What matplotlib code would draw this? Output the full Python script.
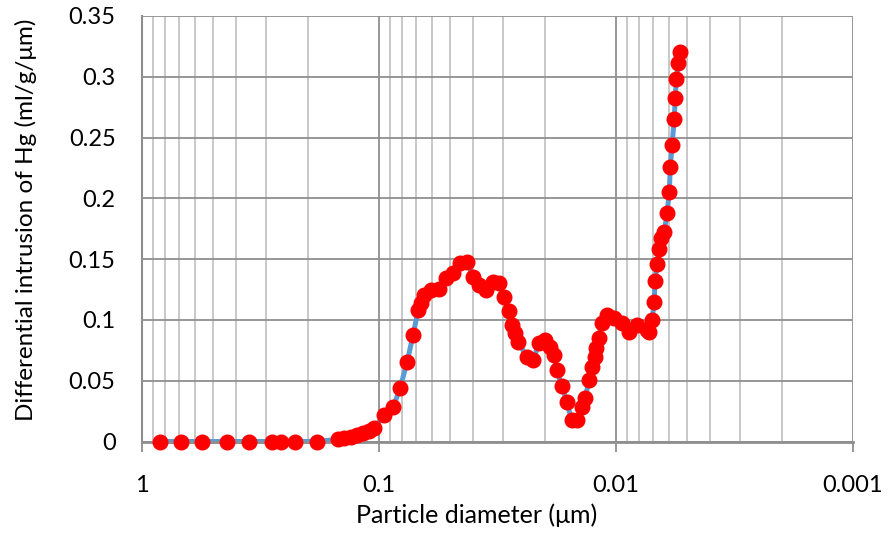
import matplotlib
matplotlib.use("Agg")
import matplotlib.pyplot as plt
from matplotlib.ticker import FixedLocator, NullFormatter, FixedFormatter

plt.rcParams['font.family'] = ['Lato', 'DejaVu Sans']

# Pore size distribution from mercury intrusion porosimetry
diameter_um = [
    0.839, 0.683, 0.557, 0.436, 0.352, 0.284, 0.258, 0.227, 0.183,
    0.149, 0.141, 0.131, 0.124, 0.117, 0.110, 0.105,
    0.0953, 0.0872, 0.0815, 0.0761, 0.0718, 0.0684, 0.0664, 0.0645,
    0.0602, 0.0557, 0.0520, 0.0486, 0.0454, 0.0424, 0.0400, 0.0377,
    0.0355, 0.0329, 0.0313, 0.0298, 0.0284, 0.0276, 0.0268, 0.0258,
    0.0238, 0.0223, 0.0212, 0.0200, 0.0190, 0.0183, 0.0178, 0.0169,
    0.0161, 0.0154, 0.0146, 0.0139, 0.0135, 0.0130, 0.0126, 0.0123,
    0.0122, 0.0118, 0.0115, 0.0109, 0.0102, 0.00944, 0.00881, 0.00815,
    0.00740, 0.00725, 0.00704, 0.00690, 0.00684, 0.00670, 0.00657,
    0.00645, 0.00626, 0.00608, 0.00596, 0.00590, 0.00580, 0.00568,
    0.00562, 0.00557, 0.00546, 0.00536,
]
dv_dlogd = [
    0.0, 0.0, 0.0, 0.0, 0.0, 0.0, 0.0, 0.0, 0.0,
    0.0017, 0.0025, 0.0033, 0.0050, 0.0066, 0.0083, 0.0110,
    0.0215, 0.0280, 0.0438, 0.0653, 0.0876, 0.1080, 0.1140, 0.1206,
    0.1247, 0.1256, 0.1346, 0.1388, 0.1470, 0.1480, 0.1355, 0.1290,
    0.1247, 0.1313, 0.1305, 0.1190, 0.1070, 0.0958, 0.0892, 0.0818,
    0.0694, 0.0669, 0.0810, 0.0834, 0.0776, 0.0710, 0.0586, 0.0454,
    0.0322, 0.0173, 0.0173, 0.0280, 0.0355, 0.0504, 0.0611, 0.0694,
    0.0768, 0.0850, 0.0975, 0.1040, 0.1016, 0.0975, 0.0900, 0.0958,
    0.0917, 0.0900, 0.1000, 0.1150, 0.1320, 0.1460, 0.1586,
    0.1676, 0.1726, 0.1883, 0.2056, 0.2255, 0.2436, 0.2650,
    0.2825, 0.2980, 0.3113, 0.3205,
]

x_major = [1, 0.1, 0.01, 0.001]
x_major_labels = ["1", "0.1", "0.01", "0.001"]
x_minor = [m * d for d in (0.1, 0.01, 0.001) for m in range(2, 10)]
y_ticks = [0, 0.05, 0.1, 0.15, 0.2, 0.25, 0.3, 0.35]
y_tick_labels = ["0", "0.05", "0.1", "0.15", "0.2", "0.25", "0.3", "0.35"]

fig = plt.figure(figsize=(8.89, 5.33), dpi=100)
ax = fig.add_axes([142 / 889, 1 - 441.5 / 533, 711 / 889, 425.5 / 533])

ax.set_xscale('log')
ax.set_xlim(1, 0.001)
ax.set_ylim(0, 0.35)

ax.xaxis.set_major_locator(FixedLocator(x_major))
ax.xaxis.set_major_formatter(FixedFormatter(x_major_labels))
ax.xaxis.set_minor_locator(FixedLocator(x_minor))
ax.xaxis.set_minor_formatter(NullFormatter())
ax.yaxis.set_major_locator(FixedLocator(y_ticks))
ax.yaxis.set_major_formatter(FixedFormatter(y_tick_labels))

ax.grid(True, which='major', axis='both', color='#8f8f8f', linewidth=1.3)
ax.grid(True, which='minor', axis='x', color='#c4c4c4', linewidth=1.3)
ax.set_axisbelow(True)

for side in ('top', 'right'):
    ax.spines[side].set_visible(False)
ax.spines['left'].set_color('#8f8f8f')
ax.spines['left'].set_linewidth(1.5)
ax.spines['bottom'].set_color('#8f8f8f')
ax.spines['bottom'].set_linewidth(2.0)

ax.tick_params(axis='x', which='major', length=7, width=1.3, color='#8f8f8f',
               pad=17, labelsize=17)
ax.tick_params(axis='x', which='minor', length=0)
ax.tick_params(axis='y', which='major', length=0, pad=19, labelsize=17)

ax.plot(diameter_um, dv_dlogd, color='#5B9BD5', linewidth=3.6, zorder=2,
        solid_capstyle='round', clip_on=False)
ax.plot(diameter_um, dv_dlogd, linestyle='none', marker='o', markersize=10.5,
        markerfacecolor='#FF0000', markeredgecolor='#FF0000', zorder=3,
        clip_on=False)

ax.set_xlabel('Particle diameter (μm)', fontsize=18)
ax.set_ylabel('Differential intrusion of Hg (ml/g/μm)', fontsize=17.5)
ax.xaxis.label.set_va('center')
ax.yaxis.label.set_va('center')
ax.xaxis.set_label_coords(0.47, -0.173)
ax.yaxis.set_label_coords(-0.163, 0.52)

fig.savefig('out.png', dpi=100)
